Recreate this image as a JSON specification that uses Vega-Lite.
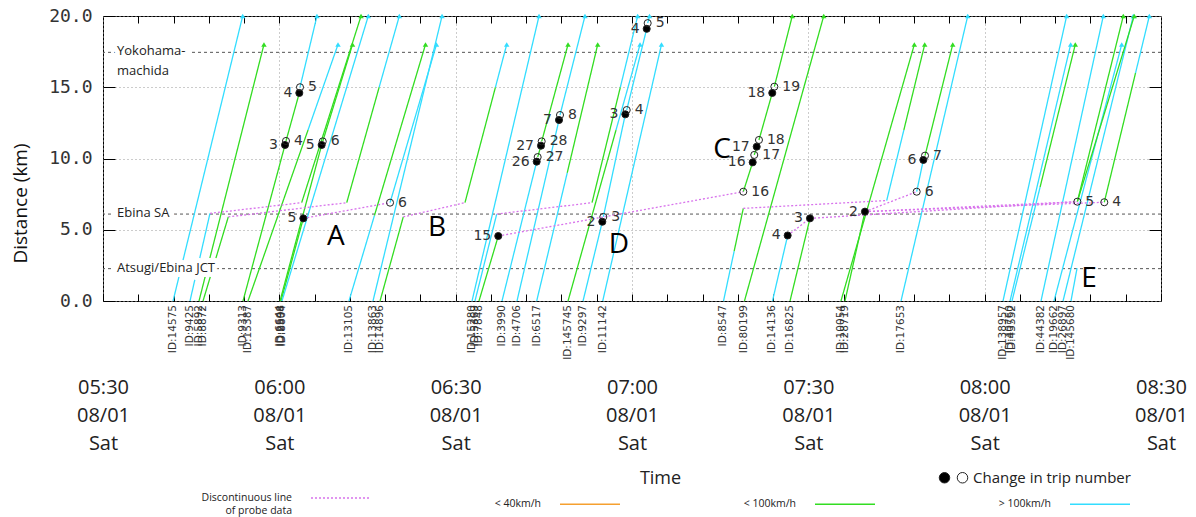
{
  "$schema": "https://vega.github.io/schema/vega-lite/v6.json",
  "width": 1058,
  "height": 285,
  "autosize": {"type": "none"},
  "padding": {"left": 103, "top": 16, "right": 35, "bottom": 216},
  "background": "white",
  "config": {"view": {"stroke": "#000", "strokeWidth": 1}, "font": "Open Sans"},
  "resolve": {"axis": {"x": "independent", "y": "independent"}},
  "datasets": {
    "refs": [
      {"name": "Yokohama-\nmachida", "km": 17.45},
      {"name": "Ebina SA", "km": 6.1},
      {"name": "Atsugi/Ebina JCT", "km": 2.27}
    ],
    "notes": [
      {"letter": "A", "time": "2015-08-01 06:09:38", "km": 4.49},
      {"letter": "B", "time": "2015-08-01 06:26:49", "km": 5.12},
      {"letter": "C", "time": "2015-08-01 07:15:19", "km": 10.6},
      {"letter": "D", "time": "2015-08-01 06:57:47", "km": 3.93},
      {"letter": "E", "time": "2015-08-01 08:17:45", "km": 1.54}
    ],
    "trips": [
      {"time": "2015-08-01 06:00:58", "km": 10.95, "trip": 3, "kind": "end"},
      {"time": "2015-08-01 06:01:08", "km": 11.23, "trip": 4, "kind": "start"},
      {"time": "2015-08-01 06:03:24", "km": 14.6, "trip": 4, "kind": "end"},
      {"time": "2015-08-01 06:03:31", "km": 15.0, "trip": 5, "kind": "start"},
      {"time": "2015-08-01 06:07:12", "km": 10.95, "trip": 5, "kind": "end"},
      {"time": "2015-08-01 06:07:23", "km": 11.2, "trip": 6, "kind": "start"},
      {"time": "2015-08-01 06:04:05", "km": 5.8, "trip": 5, "kind": "end"},
      {"time": "2015-08-01 06:18:50", "km": 6.9, "trip": 6, "kind": "start"},
      {"time": "2015-08-01 06:37:15", "km": 4.56, "trip": 15, "kind": "end"},
      {"time": "2015-08-01 06:43:47", "km": 9.78, "trip": 26, "kind": "end"},
      {"time": "2015-08-01 06:43:57", "km": 10.1, "trip": 27, "kind": "start"},
      {"time": "2015-08-01 06:44:31", "km": 10.9, "trip": 27, "kind": "end"},
      {"time": "2015-08-01 06:44:38", "km": 11.2, "trip": 28, "kind": "start"},
      {"time": "2015-08-01 06:47:35", "km": 12.7, "trip": 7, "kind": "end"},
      {"time": "2015-08-01 06:47:45", "km": 13.05, "trip": 8, "kind": "start"},
      {"time": "2015-08-01 06:54:57", "km": 5.56, "trip": 2, "kind": "end"},
      {"time": "2015-08-01 06:55:07", "km": 5.9, "trip": 3, "kind": "start"},
      {"time": "2015-08-01 06:58:52", "km": 13.1, "trip": 3, "kind": "end"},
      {"time": "2015-08-01 06:59:06", "km": 13.4, "trip": 4, "kind": "start"},
      {"time": "2015-08-01 07:02:30", "km": 19.1, "trip": 4, "kind": "end"},
      {"time": "2015-08-01 07:02:40", "km": 19.5, "trip": 5, "kind": "start"},
      {"time": "2015-08-01 07:18:56", "km": 7.67, "trip": 16, "kind": "start"},
      {"time": "2015-08-01 07:20:32", "km": 9.73, "trip": 16, "kind": "end"},
      {"time": "2015-08-01 07:20:48", "km": 10.25, "trip": 17, "kind": "start"},
      {"time": "2015-08-01 07:21:13", "km": 10.83, "trip": 17, "kind": "end"},
      {"time": "2015-08-01 07:21:36", "km": 11.3, "trip": 18, "kind": "start"},
      {"time": "2015-08-01 07:23:52", "km": 14.6, "trip": 18, "kind": "end"},
      {"time": "2015-08-01 07:24:13", "km": 15.04, "trip": 19, "kind": "start"},
      {"time": "2015-08-01 07:26:29", "km": 4.6, "trip": 4, "kind": "end"},
      {"time": "2015-08-01 07:30:17", "km": 5.8, "trip": 3, "kind": "end"},
      {"time": "2015-08-01 07:39:38", "km": 6.27, "trip": 2, "kind": "end"},
      {"time": "2015-08-01 07:48:26", "km": 7.67, "trip": 6, "kind": "start"},
      {"time": "2015-08-01 07:49:34", "km": 9.9, "trip": 6, "kind": "end"},
      {"time": "2015-08-01 07:49:51", "km": 10.2, "trip": 7, "kind": "start"},
      {"time": "2015-08-01 08:15:46", "km": 6.97, "trip": 5, "kind": "start"},
      {"time": "2015-08-01 08:20:21", "km": 6.93, "trip": 4, "kind": "start"}
    ],
    "segs": [
      {"seg": "S01", "time": "2015-08-01 05:41:55", "km": 0, "speed": "> 100km/h", "vid": "ID:14575"},
      {"seg": "S01", "time": "2015-08-01 05:53:46", "km": 20, "speed": "> 100km/h"},
      {"seg": "S02", "time": "2015-08-01 05:44:48", "km": 0, "speed": "> 100km/h", "vid": "ID:9425"},
      {"seg": "S02", "time": "2015-08-01 05:48:12", "km": 6.15, "speed": "> 100km/h"},
      {"seg": "S03", "time": "2015-08-01 05:46:20", "km": 0, "speed": "< 100km/h", "vid": "ID:5892"},
      {"seg": "S03", "time": "2015-08-01 05:57:23", "km": 18, "speed": "< 100km/h"},
      {"seg": "S04", "time": "2015-08-01 05:47:01", "km": 0, "speed": "< 100km/h", "vid": "ID:8872"},
      {"seg": "S04", "time": "2015-08-01 05:51:19", "km": 5.9, "speed": "< 100km/h"},
      {"seg": "S05a", "time": "2015-08-01 05:53:49", "km": 0, "speed": "< 100km/h", "vid": "ID:9313"},
      {"seg": "S05a", "time": "2015-08-01 06:00:58", "km": 10.95, "speed": "< 100km/h"},
      {"seg": "S05b", "time": "2015-08-01 06:01:08", "km": 11.23, "speed": "< 100km/h"},
      {"seg": "S05b", "time": "2015-08-01 06:03:24", "km": 14.6, "speed": "< 100km/h"},
      {"seg": "S05c", "time": "2015-08-01 06:03:31", "km": 15, "speed": "> 100km/h"},
      {"seg": "S05c", "time": "2015-08-01 06:06:24", "km": 20, "speed": "> 100km/h"},
      {"seg": "S06a", "time": "2015-08-01 05:54:40", "km": 0, "speed": "< 100km/h", "vid": "ID:15387"},
      {"seg": "S06a", "time": "2015-08-01 06:04:53", "km": 12, "speed": "< 100km/h"},
      {"seg": "S06b", "time": "2015-08-01 06:04:53", "km": 12, "speed": "> 100km/h"},
      {"seg": "S06b", "time": "2015-08-01 06:09:59", "km": 18, "speed": "> 100km/h"},
      {"seg": "S07", "time": "2015-08-01 06:03:48", "km": 6.9, "speed": "< 100km/h"},
      {"seg": "S07", "time": "2015-08-01 06:13:54", "km": 20, "speed": "< 100km/h"},
      {"seg": "S08a", "time": "2015-08-01 06:00:07", "km": 0, "speed": "< 100km/h", "vid": "ID:6644"},
      {"seg": "S08a", "time": "2015-08-01 06:07:12", "km": 10.95, "speed": "< 100km/h"},
      {"seg": "S08b", "time": "2015-08-01 06:07:23", "km": 11.2, "speed": "< 100km/h"},
      {"seg": "S08b", "time": "2015-08-01 06:12:27", "km": 18, "speed": "< 100km/h"},
      {"seg": "S09", "time": "2015-08-01 06:00:17", "km": 0, "speed": "< 100km/h", "vid": "ID:2598"},
      {"seg": "S09", "time": "2015-08-01 06:04:05", "km": 5.8, "speed": "< 100km/h"},
      {"seg": "S10", "time": "2015-08-01 06:00:27", "km": 0, "speed": "> 100km/h", "vid": "ID:8804"},
      {"seg": "S10", "time": "2015-08-01 06:15:08", "km": 20, "speed": "> 100km/h"},
      {"seg": "S11a", "time": "2015-08-01 06:11:28", "km": 6.9, "speed": "< 100km/h"},
      {"seg": "S11a", "time": "2015-08-01 06:16:59", "km": 15, "speed": "< 100km/h"},
      {"seg": "S11b", "time": "2015-08-01 06:16:59", "km": 15, "speed": "> 100km/h"},
      {"seg": "S11b", "time": "2015-08-01 06:20:25", "km": 20, "speed": "> 100km/h"},
      {"seg": "S12a", "time": "2015-08-01 06:11:51", "km": 0, "speed": "> 100km/h", "vid": "ID:13105"},
      {"seg": "S12a", "time": "2015-08-01 06:16:11", "km": 6, "speed": "> 100km/h"},
      {"seg": "S12b", "time": "2015-08-01 06:16:11", "km": 6, "speed": "< 100km/h"},
      {"seg": "S12b", "time": "2015-08-01 06:24:52", "km": 18, "speed": "< 100km/h"},
      {"seg": "S13", "time": "2015-08-01 06:15:56", "km": 0, "speed": "> 100km/h", "vid": "ID:13863"},
      {"seg": "S13", "time": "2015-08-01 06:27:41", "km": 20, "speed": "> 100km/h"},
      {"seg": "S14", "time": "2015-08-01 06:17:08", "km": 0, "speed": "< 100km/h", "vid": "ID:14896"},
      {"seg": "S14", "time": "2015-08-01 06:21:05", "km": 5.9, "speed": "< 100km/h"},
      {"seg": "S15", "time": "2015-08-01 06:18:50", "km": 6.9, "speed": "> 100km/h"},
      {"seg": "S15", "time": "2015-08-01 06:26:44", "km": 18, "speed": "> 100km/h"},
      {"seg": "S16a", "time": "2015-08-01 06:31:35", "km": 6.9, "speed": "< 100km/h"},
      {"seg": "S16a", "time": "2015-08-01 06:36:46", "km": 15, "speed": "< 100km/h"},
      {"seg": "S16b", "time": "2015-08-01 06:36:46", "km": 15, "speed": "> 100km/h"},
      {"seg": "S16b", "time": "2015-08-01 06:38:41", "km": 18, "speed": "> 100km/h"},
      {"seg": "S17", "time": "2015-08-01 06:32:47", "km": 0, "speed": "> 100km/h", "vid": "ID:15280"},
      {"seg": "S17", "time": "2015-08-01 06:44:11", "km": 20, "speed": "> 100km/h"},
      {"seg": "S18", "time": "2015-08-01 06:33:17", "km": 0, "speed": "> 100km/h", "vid": "ID:5369"},
      {"seg": "S18", "time": "2015-08-01 06:36:59", "km": 6.1, "speed": "> 100km/h"},
      {"seg": "S19", "time": "2015-08-01 06:33:58", "km": 0, "speed": "< 100km/h", "vid": "ID:7848"},
      {"seg": "S19", "time": "2015-08-01 06:37:15", "km": 4.56, "speed": "< 100km/h"},
      {"seg": "S20a", "time": "2015-08-01 06:37:53", "km": 0, "speed": "> 100km/h", "vid": "ID:3990"},
      {"seg": "S20a", "time": "2015-08-01 06:43:47", "km": 9.78, "speed": "> 100km/h"},
      {"seg": "S20b", "time": "2015-08-01 06:43:57", "km": 10.1, "speed": "< 100km/h"},
      {"seg": "S20b", "time": "2015-08-01 06:44:31", "km": 10.9, "speed": "< 100km/h"},
      {"seg": "S20c", "time": "2015-08-01 06:44:38", "km": 11.2, "speed": "< 100km/h"},
      {"seg": "S20c", "time": "2015-08-01 06:49:07", "km": 18, "speed": "< 100km/h"},
      {"seg": "S21a", "time": "2015-08-01 06:40:26", "km": 0, "speed": "> 100km/h", "vid": "ID:4706"},
      {"seg": "S21a", "time": "2015-08-01 06:47:35", "km": 12.7, "speed": "> 100km/h"},
      {"seg": "S21b", "time": "2015-08-01 06:47:45", "km": 13.05, "speed": "> 100km/h"},
      {"seg": "S21b", "time": "2015-08-01 06:52:00", "km": 20, "speed": "> 100km/h"},
      {"seg": "S22a", "time": "2015-08-01 06:43:47", "km": 0, "speed": "> 100km/h", "vid": "ID:6517"},
      {"seg": "S22a", "time": "2015-08-01 06:48:59", "km": 9, "speed": "> 100km/h"},
      {"seg": "S22b", "time": "2015-08-01 06:48:59", "km": 9, "speed": "< 100km/h"},
      {"seg": "S22b", "time": "2015-08-01 06:54:10", "km": 18, "speed": "< 100km/h"},
      {"seg": "S23a", "time": "2015-08-01 06:49:07", "km": 0, "speed": "< 100km/h", "vid": "ID:145745"},
      {"seg": "S23a", "time": "2015-08-01 06:57:17", "km": 12, "speed": "< 100km/h"},
      {"seg": "S23b", "time": "2015-08-01 06:57:17", "km": 12, "speed": "> 100km/h"},
      {"seg": "S23b", "time": "2015-08-01 07:01:22", "km": 18, "speed": "> 100km/h"},
      {"seg": "S24a", "time": "2015-08-01 06:51:40", "km": 0, "speed": "> 100km/h", "vid": "ID:9297"},
      {"seg": "S24a", "time": "2015-08-01 06:54:57", "km": 5.56, "speed": "> 100km/h"},
      {"seg": "S24b", "time": "2015-08-01 06:55:07", "km": 5.9, "speed": "> 100km/h"},
      {"seg": "S24b", "time": "2015-08-01 06:58:52", "km": 13.1, "speed": "> 100km/h"},
      {"seg": "S24c", "time": "2015-08-01 06:59:06", "km": 13.4, "speed": "> 100km/h"},
      {"seg": "S24c", "time": "2015-08-01 07:02:30", "km": 19.1, "speed": "> 100km/h"},
      {"seg": "S24d", "time": "2015-08-01 07:02:40", "km": 19.5, "speed": "> 100km/h"},
      {"seg": "S24d", "time": "2015-08-01 07:02:59", "km": 20, "speed": "> 100km/h"},
      {"seg": "S25a", "time": "2015-08-01 06:53:12", "km": 6.9, "speed": "< 100km/h"},
      {"seg": "S25a", "time": "2015-08-01 06:58:01", "km": 15, "speed": "< 100km/h"},
      {"seg": "S25b", "time": "2015-08-01 06:58:01", "km": 15, "speed": "> 100km/h"},
      {"seg": "S25b", "time": "2015-08-01 07:00:58", "km": 20, "speed": "> 100km/h"},
      {"seg": "S26", "time": "2015-08-01 06:55:01", "km": 0, "speed": "> 100km/h", "vid": "ID:11142"},
      {"seg": "S26", "time": "2015-08-01 07:05:01", "km": 18, "speed": "> 100km/h"},
      {"seg": "S27a", "time": "2015-08-01 07:15:34", "km": 0, "speed": "> 100km/h", "vid": "ID:8547"},
      {"seg": "S27a", "time": "2015-08-01 07:17:23", "km": 3.5, "speed": "> 100km/h"},
      {"seg": "S27b", "time": "2015-08-01 07:17:23", "km": 3.5, "speed": "< 100km/h"},
      {"seg": "S27b", "time": "2015-08-01 07:18:56", "km": 6.5, "speed": "< 100km/h"},
      {"seg": "S28a", "time": "2015-08-01 07:18:56", "km": 7.67, "speed": "< 100km/h"},
      {"seg": "S28a", "time": "2015-08-01 07:20:32", "km": 9.73, "speed": "< 100km/h"},
      {"seg": "S28b", "time": "2015-08-01 07:20:48", "km": 10.25, "speed": "< 100km/h"},
      {"seg": "S28b", "time": "2015-08-01 07:21:13", "km": 10.83, "speed": "< 100km/h"},
      {"seg": "S28c", "time": "2015-08-01 07:21:36", "km": 11.3, "speed": "< 100km/h"},
      {"seg": "S28c", "time": "2015-08-01 07:23:52", "km": 14.6, "speed": "< 100km/h"},
      {"seg": "S28d", "time": "2015-08-01 07:24:13", "km": 15.04, "speed": "< 100km/h"},
      {"seg": "S28d", "time": "2015-08-01 07:27:16", "km": 20, "speed": "< 100km/h"},
      {"seg": "S29", "time": "2015-08-01 07:19:08", "km": 0, "speed": "< 100km/h", "vid": "ID:80199"},
      {"seg": "S29", "time": "2015-08-01 07:32:37", "km": 20, "speed": "< 100km/h"},
      {"seg": "S30", "time": "2015-08-01 07:23:54", "km": 0, "speed": "> 100km/h", "vid": "ID:14136"},
      {"seg": "S30", "time": "2015-08-01 07:26:29", "km": 4.6, "speed": "> 100km/h"},
      {"seg": "S31", "time": "2015-08-01 07:26:53", "km": 0, "speed": "< 100km/h", "vid": "ID:16825"},
      {"seg": "S31", "time": "2015-08-01 07:30:17", "km": 5.8, "speed": "< 100km/h"},
      {"seg": "S32", "time": "2015-08-01 07:35:33", "km": 0, "speed": "< 100km/h", "vid": "ID:10054"},
      {"seg": "S32", "time": "2015-08-01 07:48:02", "km": 18, "speed": "< 100km/h"},
      {"seg": "S33", "time": "2015-08-01 07:36:14", "km": 0, "speed": "< 100km/h", "vid": "ID:28719"},
      {"seg": "S33", "time": "2015-08-01 07:39:38", "km": 6.27, "speed": "< 100km/h"},
      {"seg": "S34a", "time": "2015-08-01 07:43:20", "km": 7.05, "speed": "> 100km/h"},
      {"seg": "S34a", "time": "2015-08-01 07:46:15", "km": 12, "speed": "> 100km/h"},
      {"seg": "S34b", "time": "2015-08-01 07:46:15", "km": 12, "speed": "< 100km/h"},
      {"seg": "S34b", "time": "2015-08-01 07:49:48", "km": 18, "speed": "< 100km/h"},
      {"seg": "S35a", "time": "2015-08-01 07:48:26", "km": 7.67, "speed": "> 100km/h"},
      {"seg": "S35a", "time": "2015-08-01 07:49:34", "km": 9.9, "speed": "> 100km/h"},
      {"seg": "S35b", "time": "2015-08-01 07:49:51", "km": 10.2, "speed": "< 100km/h"},
      {"seg": "S35b", "time": "2015-08-01 07:54:34", "km": 18, "speed": "< 100km/h"},
      {"seg": "S36", "time": "2015-08-01 07:45:46", "km": 0, "speed": "> 100km/h", "vid": "ID:17653"},
      {"seg": "S36", "time": "2015-08-01 07:57:07", "km": 20, "speed": "> 100km/h"},
      {"seg": "S37", "time": "2015-08-01 08:03:07", "km": 0, "speed": "> 100km/h", "vid": "ID:138957"},
      {"seg": "S37", "time": "2015-08-01 08:13:57", "km": 20, "speed": "> 100km/h"},
      {"seg": "S38", "time": "2015-08-01 08:04:19", "km": 0, "speed": "> 100km/h", "vid": "ID:40760"},
      {"seg": "S38", "time": "2015-08-01 08:14:38", "km": 18, "speed": "> 100km/h"},
      {"seg": "S39a", "time": "2015-08-01 08:04:39", "km": 0, "speed": "> 100km/h", "vid": "ID:43552"},
      {"seg": "S39a", "time": "2015-08-01 08:09:26", "km": 8, "speed": "> 100km/h"},
      {"seg": "S39b", "time": "2015-08-01 08:09:26", "km": 8, "speed": "< 100km/h"},
      {"seg": "S39b", "time": "2015-08-01 08:15:25", "km": 18, "speed": "< 100km/h"},
      {"seg": "S40", "time": "2015-08-01 08:09:35", "km": 0, "speed": "> 100km/h", "vid": "ID:44382"},
      {"seg": "S40", "time": "2015-08-01 08:20:11", "km": 20, "speed": "> 100km/h"},
      {"seg": "S41", "time": "2015-08-01 08:11:48", "km": 0, "speed": "> 100km/h", "vid": "ID:19662"},
      {"seg": "S41", "time": "2015-08-01 08:23:19", "km": 18, "speed": "> 100km/h"},
      {"seg": "S42", "time": "2015-08-01 08:13:20", "km": 0, "speed": "> 100km/h", "vid": "ID:26897"},
      {"seg": "S42", "time": "2015-08-01 08:25:17", "km": 20, "speed": "> 100km/h"},
      {"seg": "S43", "time": "2015-08-01 08:14:41", "km": 0, "speed": "> 100km/h", "vid": "ID:145680"},
      {"seg": "S43", "time": "2015-08-01 08:15:43", "km": 2.3, "speed": "> 100km/h"},
      {"seg": "S44", "time": "2015-08-01 08:15:46", "km": 6.97, "speed": "< 100km/h"},
      {"seg": "S44", "time": "2015-08-01 08:23:35", "km": 20, "speed": "< 100km/h"},
      {"seg": "S45", "time": "2015-08-01 08:15:46", "km": 6.97, "speed": "< 100km/h"},
      {"seg": "S45", "time": "2015-08-01 08:25:27", "km": 20, "speed": "< 100km/h"},
      {"seg": "S46a", "time": "2015-08-01 08:20:21", "km": 6.93, "speed": "< 100km/h"},
      {"seg": "S46a", "time": "2015-08-01 08:25:40", "km": 16, "speed": "< 100km/h"},
      {"seg": "S46b", "time": "2015-08-01 08:25:40", "km": 16, "speed": "> 100km/h"},
      {"seg": "S46b", "time": "2015-08-01 08:28:01", "km": 20, "speed": "> 100km/h"},
      {"seg": "G01", "time": "2015-08-01 05:48:12", "km": 6.15, "speed": "Discontinuous line of probe data"},
      {"seg": "G01", "time": "2015-08-01 06:03:48", "km": 6.9, "speed": "Discontinuous line of probe data"},
      {"seg": "G02", "time": "2015-08-01 05:51:19", "km": 5.9, "speed": "Discontinuous line of probe data"},
      {"seg": "G02", "time": "2015-08-01 06:11:28", "km": 6.9, "speed": "Discontinuous line of probe data"},
      {"seg": "G03", "time": "2015-08-01 06:04:05", "km": 5.8, "speed": "Discontinuous line of probe data"},
      {"seg": "G03", "time": "2015-08-01 06:18:50", "km": 6.9, "speed": "Discontinuous line of probe data"},
      {"seg": "G04", "time": "2015-08-01 06:21:05", "km": 5.9, "speed": "Discontinuous line of probe data"},
      {"seg": "G04", "time": "2015-08-01 06:31:35", "km": 6.9, "speed": "Discontinuous line of probe data"},
      {"seg": "G05", "time": "2015-08-01 06:36:59", "km": 6.1, "speed": "Discontinuous line of probe data"},
      {"seg": "G05", "time": "2015-08-01 06:53:12", "km": 6.9, "speed": "Discontinuous line of probe data"},
      {"seg": "G06", "time": "2015-08-01 06:37:15", "km": 4.56, "speed": "Discontinuous line of probe data"},
      {"seg": "G06", "time": "2015-08-01 07:18:56", "km": 7.67, "speed": "Discontinuous line of probe data"},
      {"seg": "G07", "time": "2015-08-01 07:18:56", "km": 6.5, "speed": "Discontinuous line of probe data"},
      {"seg": "G07", "time": "2015-08-01 07:43:20", "km": 7.05, "speed": "Discontinuous line of probe data"},
      {"seg": "G08", "time": "2015-08-01 07:26:29", "km": 4.6, "speed": "Discontinuous line of probe data"},
      {"seg": "G08", "time": "2015-08-01 07:30:17", "km": 5.8, "speed": "Discontinuous line of probe data"},
      {"seg": "G09", "time": "2015-08-01 07:30:17", "km": 5.8, "speed": "Discontinuous line of probe data"},
      {"seg": "G09", "time": "2015-08-01 08:15:46", "km": 6.97, "speed": "Discontinuous line of probe data"},
      {"seg": "G10", "time": "2015-08-01 07:39:38", "km": 6.27, "speed": "Discontinuous line of probe data"},
      {"seg": "G10", "time": "2015-08-01 08:20:21", "km": 6.93, "speed": "Discontinuous line of probe data"},
      {"seg": "G11", "time": "2015-08-01 07:39:38", "km": 6.27, "speed": "Discontinuous line of probe data"},
      {"seg": "G11", "time": "2015-08-01 07:48:26", "km": 7.67, "speed": "Discontinuous line of probe data"},
      {"seg": "G12", "time": "2015-08-01 07:39:38", "km": 6.27, "speed": "Discontinuous line of probe data"},
      {"seg": "G12", "time": "2015-08-01 08:15:46", "km": 6.97, "speed": "Discontinuous line of probe data"}
    ]
  },
  "layer": [
    {
      "data": {"name": "refs"},
      "mark": {"type": "rule", "strokeDash": [3, 3], "color": "#555555", "strokeWidth": 1},
      "encoding": {"y": {"field": "km", "type": "quantitative", "axis": null}}
    },
    {
      "data": {"name": "segs"},
      "mark": {"type": "line", "strokeWidth": 1.3},
      "encoding": {
        "x": {
          "field": "time", "type": "temporal",
          "scale": {"domain": [{"year": 2015, "month": 8, "date": 1, "hours": 5, "minutes": 30}, {"year": 2015, "month": 8, "date": 1, "hours": 8, "minutes": 30}]},
          "axis": {
            "orient": "bottom", "title": "Time",
            "values": [
              {"year": 2015, "month": 8, "date": 1, "hours": 5, "minutes": 30}, {"year": 2015, "month": 8, "date": 1, "hours": 5, "minutes": 36},
              {"year": 2015, "month": 8, "date": 1, "hours": 5, "minutes": 42}, {"year": 2015, "month": 8, "date": 1, "hours": 5, "minutes": 48},
              {"year": 2015, "month": 8, "date": 1, "hours": 5, "minutes": 54}, {"year": 2015, "month": 8, "date": 1, "hours": 6, "minutes": 0},
              {"year": 2015, "month": 8, "date": 1, "hours": 6, "minutes": 6}, {"year": 2015, "month": 8, "date": 1, "hours": 6, "minutes": 12},
              {"year": 2015, "month": 8, "date": 1, "hours": 6, "minutes": 18}, {"year": 2015, "month": 8, "date": 1, "hours": 6, "minutes": 24},
              {"year": 2015, "month": 8, "date": 1, "hours": 6, "minutes": 30}, {"year": 2015, "month": 8, "date": 1, "hours": 6, "minutes": 36},
              {"year": 2015, "month": 8, "date": 1, "hours": 6, "minutes": 42}, {"year": 2015, "month": 8, "date": 1, "hours": 6, "minutes": 48},
              {"year": 2015, "month": 8, "date": 1, "hours": 6, "minutes": 54}, {"year": 2015, "month": 8, "date": 1, "hours": 7, "minutes": 0},
              {"year": 2015, "month": 8, "date": 1, "hours": 7, "minutes": 6}, {"year": 2015, "month": 8, "date": 1, "hours": 7, "minutes": 12},
              {"year": 2015, "month": 8, "date": 1, "hours": 7, "minutes": 18}, {"year": 2015, "month": 8, "date": 1, "hours": 7, "minutes": 24},
              {"year": 2015, "month": 8, "date": 1, "hours": 7, "minutes": 30}, {"year": 2015, "month": 8, "date": 1, "hours": 7, "minutes": 36},
              {"year": 2015, "month": 8, "date": 1, "hours": 7, "minutes": 42}, {"year": 2015, "month": 8, "date": 1, "hours": 7, "minutes": 48},
              {"year": 2015, "month": 8, "date": 1, "hours": 7, "minutes": 54}, {"year": 2015, "month": 8, "date": 1, "hours": 8, "minutes": 0},
              {"year": 2015, "month": 8, "date": 1, "hours": 8, "minutes": 6}, {"year": 2015, "month": 8, "date": 1, "hours": 8, "minutes": 12},
              {"year": 2015, "month": 8, "date": 1, "hours": 8, "minutes": 18}, {"year": 2015, "month": 8, "date": 1, "hours": 8, "minutes": 24},
              {"year": 2015, "month": 8, "date": 1, "hours": 8, "minutes": 30}
            ],
            "tickSize": -7, "tickColor": "#000", "domain": false,
            "labelExpr": "minutes(datum.value) % 30 == 0 ? [timeFormat(datum.value, '%H:%M'), timeFormat(datum.value, '%m/%d'), timeFormat(datum.value, '%a')] : ''",
            "labelPadding": 83, "labelFont": "Open Sans", "labelFontSize": 20, "labelLineHeight": 28, "labelColor": "#222",
            "labelBaseline": "top", "labelOverlap": false, "labelFlush": false,
            "grid": true, "gridDash": [1, 3], "gridColor": "#999999",
            "gridOpacity": {"condition": {"test": "minutes(datum.value) % 30 == 0", "value": 1}, "value": 0},
            "titleFont": "Open Sans", "titleFontSize": 18, "titleFontWeight": "normal", "titleColor": "#222",
            "titleX": 557, "titleY": 177, "titleBaseline": "middle"
          }
        },
        "y": {
          "field": "km", "type": "quantitative",
          "scale": {"domain": [0, 20], "nice": false, "zero": false},
          "axis": {
            "orient": "left", "values": [0, 5, 10, 15, 20], "format": ".1f", "tickSize": -12, "tickColor": "#000", "domain": false,
            "labelFont": "DejaVu Sans Mono", "labelFontSize": 18, "labelColor": "#333", "labelPadding": 23,
            "grid": true, "gridDash": [1, 3], "gridColor": "#999999",
            "title": "Distance (km)", "titleFont": "Open Sans", "titleFontSize": 19, "titleFontWeight": "normal", "titleColor": "#111",
            "titleX": -83, "titleY": 187, "titleAngle": 270, "titleBaseline": "middle", "titleAlign": "center"
          }
        },
        "color": {
          "field": "speed", "type": "nominal",
          "scale": {"domain": ["Discontinuous line of probe data", "< 40km/h", "< 100km/h", "> 100km/h"], "range": ["#d873ec", "#f5a030", "#33dd22", "#33ddff"]},
          "legend": {
            "title": null, "orient": "none", "legendX": 207, "legendY": 451, "direction": "horizontal", "columns": 4,
            "symbolType": "stroke", "symbolSize": 3600, "symbolStrokeWidth": 1.5,
            "labelFont": "Open Sans", "labelFontSize": 10.5, "labelColor": "#222", "labelLimit": 200,
            "labelExpr": "datum.label == 'Discontinuous line of probe data' ? ['Discontinuous line', 'of probe data'] : datum.label",
            "labelAlign": "right", "labelOffset": -80, "columnPadding": 120
          }
        },
        "strokeDash": {
          "field": "speed", "type": "nominal",
          "scale": {"domain": ["Discontinuous line of probe data", "< 40km/h", "< 100km/h", "> 100km/h"], "range": [[2, 2], [1, 0], [1, 0], [1, 0]]},
          "legend": {
            "title": null, "orient": "none", "legendX": 207, "legendY": 451, "direction": "horizontal", "columns": 4,
            "symbolType": "stroke", "symbolSize": 3600, "symbolStrokeWidth": 1.5,
            "labelFont": "Open Sans", "labelFontSize": 10.5, "labelColor": "#222", "labelLimit": 200,
            "labelExpr": "datum.label == 'Discontinuous line of probe data' ? ['Discontinuous line', 'of probe data'] : datum.label",
            "labelAlign": "right", "labelOffset": -80, "columnPadding": 120
          }
        },
        "detail": {"field": "seg", "type": "nominal"}
      }
    },
    {
      "data": {"name": "segs"},
      "transform": [{"filter": "datum.km == 18 || datum.km == 20"}],
      "mark": {"type": "point", "shape": "triangle-up", "filled": true, "size": 30, "opacity": 1},
      "encoding": {
        "x": {
          "field": "time", "type": "temporal",
          "axis": {
            "orient": "top", "title": null, "labels": false, "domain": false, "grid": false, "tickSize": -7, "tickColor": "#000",
            "values": [
              {"year": 2015, "month": 8, "date": 1, "hours": 5, "minutes": 36}, {"year": 2015, "month": 8, "date": 1, "hours": 5, "minutes": 42},
              {"year": 2015, "month": 8, "date": 1, "hours": 5, "minutes": 48}, {"year": 2015, "month": 8, "date": 1, "hours": 5, "minutes": 54},
              {"year": 2015, "month": 8, "date": 1, "hours": 6, "minutes": 0}, {"year": 2015, "month": 8, "date": 1, "hours": 6, "minutes": 6},
              {"year": 2015, "month": 8, "date": 1, "hours": 6, "minutes": 12}, {"year": 2015, "month": 8, "date": 1, "hours": 6, "minutes": 18},
              {"year": 2015, "month": 8, "date": 1, "hours": 6, "minutes": 24}, {"year": 2015, "month": 8, "date": 1, "hours": 6, "minutes": 30},
              {"year": 2015, "month": 8, "date": 1, "hours": 6, "minutes": 36}, {"year": 2015, "month": 8, "date": 1, "hours": 6, "minutes": 42},
              {"year": 2015, "month": 8, "date": 1, "hours": 6, "minutes": 48}, {"year": 2015, "month": 8, "date": 1, "hours": 6, "minutes": 54},
              {"year": 2015, "month": 8, "date": 1, "hours": 7, "minutes": 0}, {"year": 2015, "month": 8, "date": 1, "hours": 7, "minutes": 6},
              {"year": 2015, "month": 8, "date": 1, "hours": 7, "minutes": 12}, {"year": 2015, "month": 8, "date": 1, "hours": 7, "minutes": 18},
              {"year": 2015, "month": 8, "date": 1, "hours": 7, "minutes": 24}, {"year": 2015, "month": 8, "date": 1, "hours": 7, "minutes": 30},
              {"year": 2015, "month": 8, "date": 1, "hours": 7, "minutes": 36}, {"year": 2015, "month": 8, "date": 1, "hours": 7, "minutes": 42},
              {"year": 2015, "month": 8, "date": 1, "hours": 7, "minutes": 48}, {"year": 2015, "month": 8, "date": 1, "hours": 7, "minutes": 54},
              {"year": 2015, "month": 8, "date": 1, "hours": 8, "minutes": 0}, {"year": 2015, "month": 8, "date": 1, "hours": 8, "minutes": 6},
              {"year": 2015, "month": 8, "date": 1, "hours": 8, "minutes": 12}, {"year": 2015, "month": 8, "date": 1, "hours": 8, "minutes": 18},
              {"year": 2015, "month": 8, "date": 1, "hours": 8, "minutes": 24}
            ]
          }
        },
        "y": {
          "field": "km", "type": "quantitative",
          "axis": {"orient": "right", "title": null, "labels": false, "domain": false, "grid": false, "tickSize": -12, "tickColor": "#000", "values": [5, 10, 15]}
        },
        "color": {"field": "speed", "type": "nominal"}
      }
    },
    {
      "data": {"name": "trips"},
      "mark": {"type": "point", "filled": true, "size": 50, "stroke": "#222", "strokeWidth": 1, "opacity": 1},
      "encoding": {
        "x": {"field": "time", "type": "temporal", "axis": null},
        "y": {"field": "km", "type": "quantitative", "axis": null},
        "fill": {
          "field": "kind", "type": "nominal",
          "scale": {"domain": ["end", "start"], "range": ["#000000", "transparent"]},
          "legend": {
            "title": null, "orient": "none", "legendX": 834, "legendY": 454, "direction": "horizontal",
            "symbolType": "circle", "symbolSize": 110, "symbolStrokeColor": "#222", "symbolStrokeWidth": 1,
            "labelExpr": "datum.label == 'start' ? 'Change in trip number' : ''",
            "labelFont": "Open Sans", "labelFontSize": 15, "labelColor": "#222", "columnPadding": 0, "labelOffset": 3
          }
        }
      }
    },
    {
      "data": {"name": "trips"},
      "transform": [{"filter": "datum.kind == 'end'"}],
      "mark": {"type": "text", "align": "right", "baseline": "middle", "dx": -7, "font": "DejaVu Sans", "fontSize": 14, "color": "#333"},
      "encoding": {
        "x": {"field": "time", "type": "temporal", "axis": null},
        "y": {"field": "km", "type": "quantitative", "axis": null},
        "text": {"field": "trip", "type": "nominal"}
      }
    },
    {
      "data": {"name": "trips"},
      "transform": [{"filter": "datum.kind == 'start'"}],
      "mark": {"type": "text", "align": "left", "baseline": "middle", "dx": 8, "font": "DejaVu Sans", "fontSize": 14, "color": "#333"},
      "encoding": {
        "x": {"field": "time", "type": "temporal", "axis": null},
        "y": {"field": "km", "type": "quantitative", "axis": null},
        "text": {"field": "trip", "type": "nominal"}
      }
    },
    {
      "data": {"name": "segs"},
      "transform": [{"filter": "isValid(datum.vid)"}],
      "mark": {"type": "text", "angle": 270, "align": "right", "baseline": "middle", "dx": -4, "font": "DejaVu Sans", "fontSize": 10.5, "color": "#333"},
      "encoding": {
        "x": {"field": "time", "type": "temporal", "axis": null},
        "y": {"field": "km", "type": "quantitative", "axis": null},
        "text": {"field": "vid", "type": "nominal"}
      }
    },
    {
      "data": {"name": "refs"},
      "mark": {"type": "text", "align": "left", "baseline": "middle", "dx": 14, "dy": -1, "lineBreak": "\n", "lineHeight": 20, "font": "Open Sans", "fontSize": 13, "color": "white", "stroke": "white", "strokeWidth": 10, "strokeJoin": "round"},
      "encoding": {
        "x": {"datum": {"year": 2015, "month": 8, "date": 1, "hours": 5, "minutes": 30}, "type": "temporal", "axis": null},
        "y": {"field": "km", "type": "quantitative", "axis": null},
        "text": {"field": "name", "type": "nominal"}
      }
    },
    {
      "data": {"name": "refs"},
      "mark": {"type": "text", "align": "left", "baseline": "middle", "dx": 14, "dy": -1, "lineBreak": "\n", "lineHeight": 20, "font": "Open Sans", "fontSize": 13, "color": "#222"},
      "encoding": {
        "x": {"datum": {"year": 2015, "month": 8, "date": 1, "hours": 5, "minutes": 30}, "type": "temporal", "axis": null},
        "y": {"field": "km", "type": "quantitative", "axis": null},
        "text": {"field": "name", "type": "nominal"}
      }
    },
    {
      "data": {"name": "notes"},
      "mark": {"type": "text", "align": "center", "baseline": "middle", "font": "Open Sans", "fontSize": 28, "color": "#000"},
      "encoding": {
        "x": {"field": "time", "type": "temporal", "axis": null},
        "y": {"field": "km", "type": "quantitative", "axis": null},
        "text": {"field": "letter", "type": "nominal"}
      }
    }
  ]
}
